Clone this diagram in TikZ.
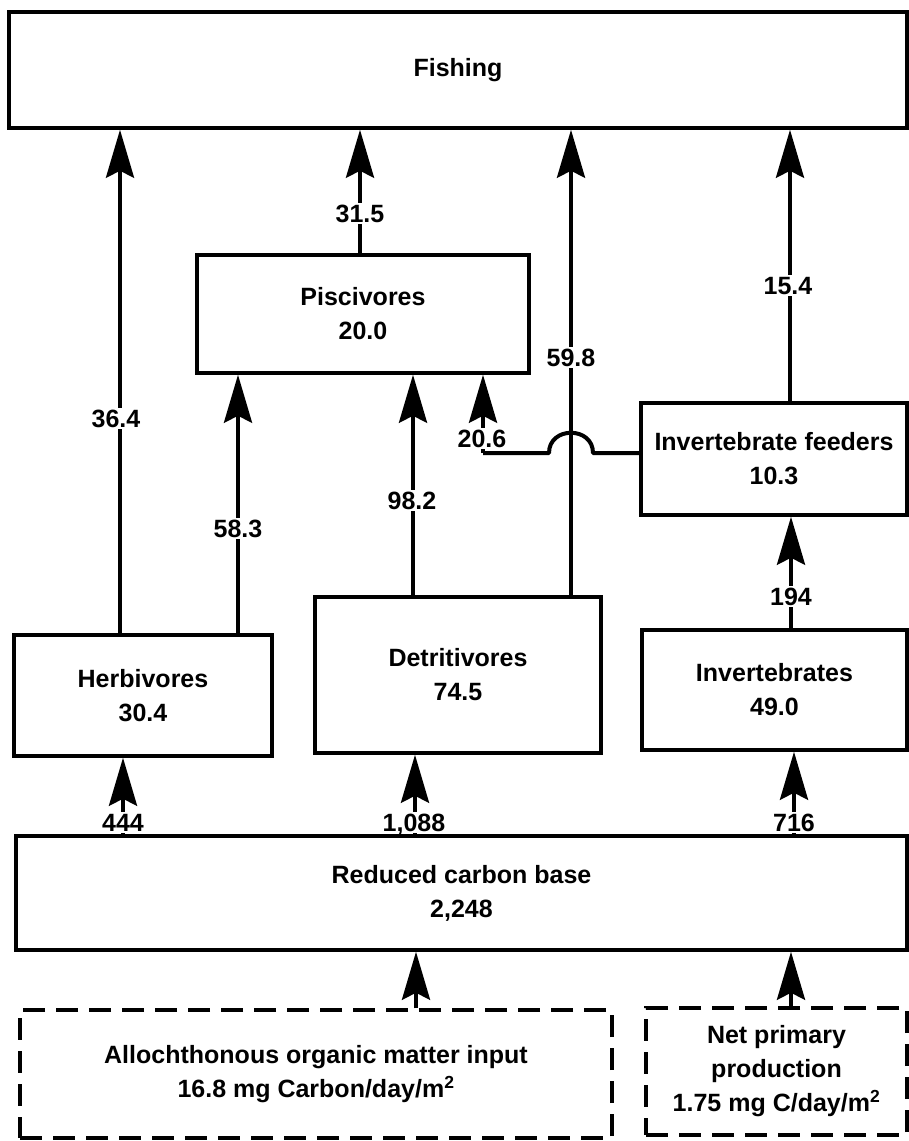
\documentclass[tikz,border=0pt]{standalone}
\usepackage{fontspec}
\setmainfont{Liberation Sans}
\usetikzlibrary{arrows.meta}
\begin{document}
\begin{tikzpicture}[x=1pt,y=-1pt,
  every node/.style={font=\fontsize{25}{34}\selectfont\bfseries, align=center},
  box/.style={draw, line width=3.5pt, rectangle, inner sep=0pt},
  dbox/.style={box, dash pattern=on 22pt off 11pt},
  arr/.style={line width=4pt, -{Stealth[length=48pt,width=28pt,inset=7pt]}},
  wire/.style={line width=4pt, line join=round},
  lab/.style={fill=white, inner sep=1.5pt, text height=18pt, text depth=0pt}]
\fill[white] (0,0) rectangle (909,1141);
\useasboundingbox (0,0) rectangle (909,1141);

% boxes
\node[box, minimum width=898pt, minimum height=116pt] (fish) at (458,70) {Fishing};
\node[box, minimum width=332pt, minimum height=118pt] (pisc) at (363,314) {Piscivores\\20.0};
\node[box, minimum width=266pt, minimum height=112pt] (ifeed) at (774,459) {Invertebrate feeders\\10.3};
\node[box, minimum width=258pt, minimum height=121pt] (herb) at (143,695.5) {Herbivores\\30.4};
\node[box, minimum width=286pt, minimum height=156pt] (detr) at (458,675) {Detritivores\\74.5};
\node[box, minimum width=265pt, minimum height=120pt] (inv) at (774.5,690) {Invertebrates\\49.0};
\node[box, minimum width=891pt, minimum height=114pt] (rcb) at (461.5,893) {Reduced carbon base\\2,248};
\node[dbox, minimum width=592pt, minimum height=128pt] (allo) at (316,1074) {Allochthonous organic matter input\\16.8 mg Carbon/day/m\textsuperscript{2}};
\node[dbox, minimum width=261pt, minimum height=127pt] (npp) at (776.5,1071.5) {Net primary\\production\\1.75 mg C/day/m\textsuperscript{2}};

% column coordinates
\coordinate (c1) at (120,0);
\coordinate (c2) at (238,0);
\coordinate (c3) at (360,0);
\coordinate (c4) at (413,0);
\coordinate (c5) at (571,0);
\coordinate (c6) at (790,0);
\coordinate (c8) at (123,0);
\coordinate (c9) at (415,0);
\coordinate (c10) at (794,0);
\coordinate (c11) at (416,0);
\coordinate (c12) at (791,0);
\coordinate (j) at (483,453);

% connectors
\draw[arr] (herb.north -| c1) -- (fish.south -| c1);
\draw[arr] (herb.north -| c2) -- (pisc.south -| c2);
\draw[arr] (pisc.north -| c3) -- (fish.south -| c3);
\draw[arr] (detr.north -| c4) -- (pisc.south -| c4);
\draw[arr] (detr.north -| c5) -- (fish.south -| c5);
\draw[arr] (ifeed.north -| c6) -- (fish.south -| c6);
\draw[wire] (ifeed.west |- j) -- (593,453) .. controls (593,426) and (549,426) .. (549,453) -- (j);
\draw[arr] (j) -- (j |- pisc.south);
\draw[arr] (inv.north -| c12) -- (ifeed.south -| c12);
\draw[arr] (rcb.north -| c8) -- (herb.south -| c8);
\draw[arr] (rcb.north -| c9) -- (detr.south -| c9);
\draw[arr] (rcb.north -| c10) -- (inv.south -| c10);
\draw[arr] (allo.north -| c11) -- (rcb.south -| c11);
\draw[arr] (npp.north -| c12) -- (rcb.south -| c12);

% labels
\node[lab] (l1) at (116,418) {36.4};
\node[lab] (l2) at (238,528) {58.3};
\node[lab] (l3) at (360,213) {31.5};
\node[lab] (l4) at (412,500) {98.2};
\node[lab] (l5) at (571,357) {59.8};
\node[lab] (l6) at (788,285) {15.4};
\node[lab] (l7) at (482,438) {20.6};
\node[lab] (l8) at (791,596) {194};
\node[lab] (l9) at (123,822) {444};
\node[lab] (l10) at (414,822) {1,088};
\node[lab] (l11) at (794,822) {716};
\end{tikzpicture}
\end{document}
